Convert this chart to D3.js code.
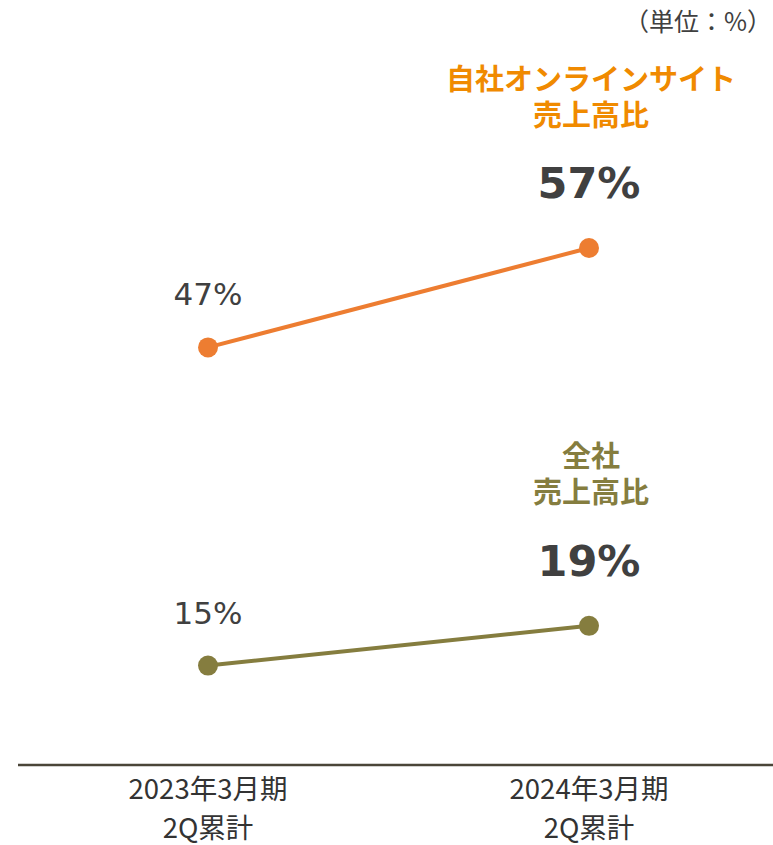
<!DOCTYPE html>
<html><head><meta charset="utf-8">
<script src="https://cdn.jsdelivr.net/npm/d3@7"></script>
<style>body{margin:0;background:#fff}svg{display:block}</style>
</head><body><div id="chart"></div>
<script>
const periods = ["2023年3月期\n2Q累計", "2024年3月期\n2Q累計"];
const onlineSeries = [47, 57];
const totalSeries = [15, 19];
const onlineTitle = ["自社オンラインサイト", "売上高比"];
const totalTitle = ["全社", "売上高比"];
const unitLabel = "（単位：%）";

const W = 773, H = 845;
const svg = d3.select("#chart").append("svg").attr("width", W).attr("height", H);

const x = d3.scalePoint().domain(periods).range([208, 589]);
const y = d3.scaleLinear().domain([5, 57]).range([765, 248]);

const cjk = "'Noto Sans CJK JP', sans-serif";
const num = "'DejaVu Sans', Verdana, sans-serif";

// unit
svg.append("text").attr("x", 772).attr("y", 31).attr("text-anchor", "end")
  .style("font-family", cjk).style("font-size", "25px").attr("fill", "#404040").text(unitLabel);

// axis
const xAxis = d3.axisBottom(x).tickSize(0).tickFormat("");
const ax = svg.append("g").attr("transform", "translate(0,765)").call(xAxis);
ax.select(".domain").remove();
svg.append("line").attr("x1", 18).attr("x2", 773).attr("y1", 765).attr("y2", 765)
  .attr("stroke", "#4a4538").attr("stroke-width", 2.5);

periods.forEach(p => {
  p.split("\n").forEach((l, i) => {
    svg.append("text").attr("text-anchor", "middle").attr("x", x(p)).attr("y", 799 + i * 39)
      .style("font-family", cjk).style("font-size", "27.5px").attr("fill", "#333").text(l);
  });
});

function drawSeries(vals, color, title, titleColor, titleY) {
  const pts = periods.map((p, i) => [x(p), y(vals[i])]);
  svg.append("path").attr("d", d3.line()(pts)).attr("fill", "none")
    .attr("stroke", color).attr("stroke-width", 4);
  svg.selectAll(null).data(pts).enter().append("circle")
    .attr("cx", d => d[0]).attr("cy", d => d[1]).attr("r", 10).attr("fill", color);
  svg.append("text").attr("x", pts[0][0]).attr("y", pts[0][1] - 42).attr("text-anchor", "middle")
    .style("font-family", num).style("font-size", "31px").attr("fill", "#404040")
    .text(vals[0] + "%");
  svg.append("text").attr("x", pts[1][0]).attr("y", pts[1][1] - 50).attr("text-anchor", "middle")
    .style("font-family", num).style("font-size", "43px").style("font-weight", "bold").attr("fill", "#404040")
    .text(vals[1] + "%");
  title.forEach((l, i) => {
    svg.append("text").attr("text-anchor", "middle").attr("x", 591).attr("y", titleY + i * 36)
      .style("font-family", cjk).style("font-size", "29px").style("font-weight", "bold")
      .attr("fill", titleColor).text(l);
  });
}

drawSeries(onlineSeries, "#ED7D31", onlineTitle, "#F08A00", 90);
drawSeries(totalSeries, "#857D3F", totalTitle, "#857D3F", 467);
</script></body></html>
